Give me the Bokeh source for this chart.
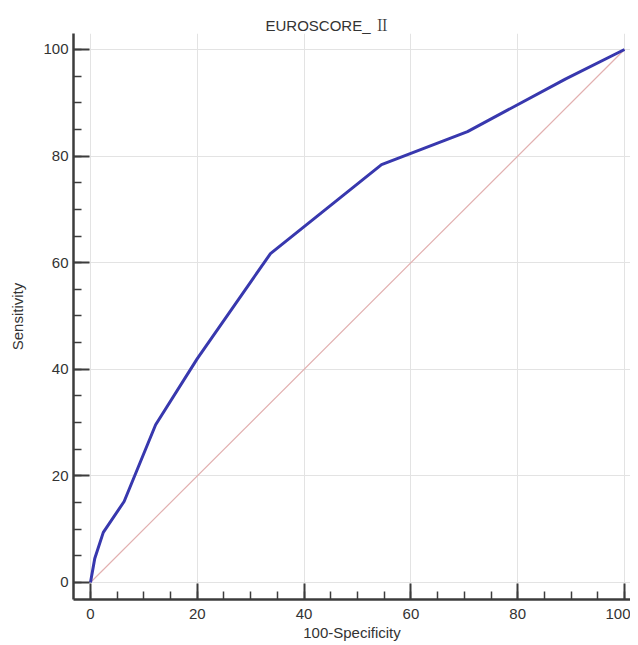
from bokeh.plotting import figure
from bokeh.models import Range1d, FixedTicker, Title
from bokeh.embed import file_html
from bokeh.resources import INLINE

# ROC curve data
fpr = [0, 0.8, 2.4, 6.3, 12.2, 20, 33.7, 54.5, 70.6, 89, 100]
tpr = [0, 4.5, 9.4, 15.2, 29.6, 42.0, 61.7, 78.4, 84.6, 94.5, 100]
diag_x = [0, 100]
diag_y = [0, 100]
ticks = [0, 20, 40, 60, 80, 100]
minor = list(range(0, 101, 5))
title_text = "EUROSCORE_ \u2161"
x_label = "100-Specificity"
y_label = "Sensitivity"

FONT = "Liberation Sans"
TXT = "#333333"

p = figure(width=630, height=645, output_backend="svg", toolbar_location=None,
           x_range=Range1d(-3.18, 101.12), y_range=Range1d(-3.19, 103.0),
           min_border_left=73, min_border_right=0, min_border_top=33, min_border_bottom=46)
p.outline_line_color = None
p.background_fill_color = "white"
p.border_fill_color = "white"

p.title = Title(text=title_text, align="left", offset=192,
                text_font="'Liberation Sans', 'Noto Serif CJK SC', 'Noto Sans CJK SC'",
                text_font_size="15px", text_font_style="normal", text_color=TXT, standoff=0)

for ax in (p.xaxis[0], p.yaxis[0]):
    ax.ticker = FixedTicker(ticks=ticks, minor_ticks=minor)
    ax.axis_line_width = 2.5
    ax.axis_line_color = "#3c3c3c"
    ax.major_tick_in = 16
    ax.major_tick_out = 0
    ax.minor_tick_in = 8
    ax.minor_tick_out = 0
    ax.major_tick_line_width = 2
    ax.major_tick_line_color = "#3c3c3c"
    ax.minor_tick_line_width = 1.5
    ax.minor_tick_line_color = "#3c3c3c"
    ax.major_label_text_font = FONT
    ax.major_label_text_font_size = "15px"
    ax.major_label_text_color = TXT
    ax.axis_label_text_font = FONT
    ax.axis_label_text_font_size = "15px"
    ax.axis_label_text_font_style = "normal"
    ax.axis_label_text_color = TXT

p.xaxis.axis_label = x_label
p.yaxis.axis_label = y_label
p.xaxis.major_label_standoff = 9
p.xaxis.axis_label_standoff = 2
p.yaxis.major_label_standoff = 5
p.yaxis.axis_label_standoff = 14

p.xgrid.ticker = FixedTicker(ticks=ticks)
p.ygrid.ticker = FixedTicker(ticks=ticks)
p.grid.grid_line_color = "#e3e3e3"
p.grid.grid_line_width = 1

p.line(diag_x, diag_y, line_color="#e2b0b0", line_width=1.2)
p.line(fpr, tpr, line_color="#3838ae", line_width=3)

open("out.html", "w").write(file_html(p, INLINE))
